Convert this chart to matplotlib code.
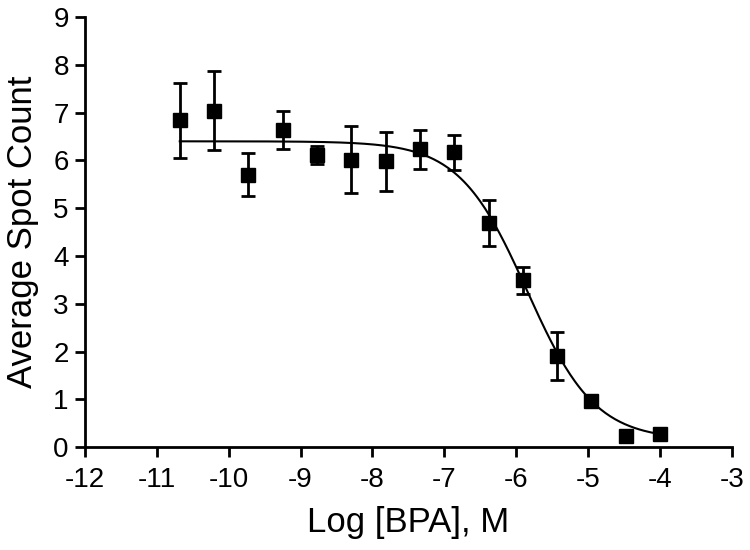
import numpy as np
import matplotlib
matplotlib.use("Agg")
import matplotlib.pyplot as plt

plt.rcParams['font.family'] = ['Liberation Sans', 'DejaVu Sans']

log_conc = [-10.679, -10.202, -9.725, -9.248, -8.771, -8.294, -7.817, -7.340,
            -6.862, -6.385, -5.908, -5.431, -4.954, -4.477, -4.0]
spot_mean = [6.84, 7.04, 5.70, 6.64, 6.12, 6.01, 5.98, 6.23,
             6.17, 4.69, 3.49, 1.90, 0.97, 0.23, 0.28]
spot_err = [0.79, 0.83, 0.45, 0.40, 0.19, 0.70, 0.62, 0.40,
            0.37, 0.49, 0.28, 0.50, 0.06, 0.05, 0.05]

# four-parameter logistic fit parameters
fit_top = 6.40
fit_bottom = 0.15
fit_logic50 = -5.85
fit_hill = 0.92

xticks = [-12, -11, -10, -9, -8, -7, -6, -5, -4, -3]
yticks = [0, 1, 2, 3, 4, 5, 6, 7, 8, 9]

fig = plt.figure(figsize=(7.5, 5.5), dpi=100)
ax = fig.add_axes([0.113, 0.187, 0.863, 0.782])

xc = np.linspace(min(log_conc), max(log_conc), 300)
yc = fit_bottom + (fit_top - fit_bottom) / (1 + 10 ** ((xc - fit_logic50) * fit_hill))
ax.plot(xc, yc, color='black', lw=1.5, zorder=2)

ax.errorbar(log_conc, spot_mean, yerr=spot_err, fmt='s', color='black',
            markersize=10, capsize=5, elinewidth=2, capthick=2, zorder=3)

ax.set_xlim(-12, -3)
ax.set_ylim(0, 9)
ax.set_xticks(xticks)
ax.set_yticks(yticks)
ax.set_xticklabels([str(t) for t in xticks])
ax.set_yticklabels([str(t) for t in yticks])
for s in ['top', 'right']:
    ax.spines[s].set_visible(False)
for s in ['left', 'bottom']:
    ax.spines[s].set_linewidth(2)
ax.tick_params(direction='out', length=7.5, width=2, labelsize=20)
ax.tick_params(axis='x', pad=7)
ax.tick_params(axis='y', pad=4)
ax.set_xlabel('Log [BPA], M', fontsize=25)
ax.set_ylabel('Average Spot Count', fontsize=25)
ax.xaxis.set_label_coords(0.5, -0.137)
ax.yaxis.set_label_coords(-0.071, 0.5)

fig.savefig('out.png', dpi=100)
